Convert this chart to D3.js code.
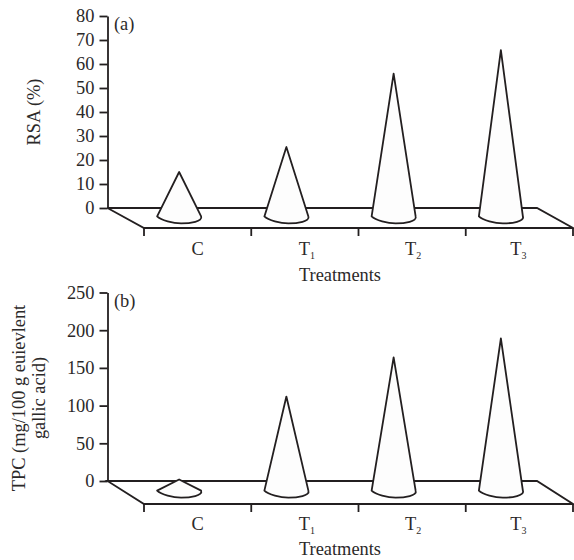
<!DOCTYPE html>
<meta charset="utf-8">
<style>
  body { margin: 0; background: #fff; }
  text { font-family: "Liberation Serif", serif; fill: #2b2929; }
</style>
<script src="https://cdn.jsdelivr.net/npm/d3@7"></script>
<div id="my_dataviz"></div>
<script>
  // values
  var categories = ["C", "T1", "T2", "T3"];
  var rsaValues = [15, 25.4, 56, 65.8];
  var tpcValues = [2, 112, 164, 189];
  var rsaTicks = [0, 10, 20, 30, 40, 50, 60, 70, 80];
  var tpcTicks = [0, 50, 100, 150, 200, 250];

  var svg = d3.select("#my_dataviz")
    .append("svg")
      .attr("width", 574)
      .attr("height", 560)
      .style("display", "block");

  var fontSize = 18.4;
  var ink = "#231f20";
  var lineW = 1.8;
  // labels are not quite centred in the original
  var labelShift = { C: 0, T1: 2, T2: 1, T3: -1 };

  // front edge of the floor, split in one band per treatment
  var x = d3.scaleBand()
      .domain(categories)
      .range([144, 573]);

  function cone(cx, apexY, baseY) {
    var p = d3.path();
    p.moveTo(cx, apexY);
    p.lineTo(cx - 22, baseY);
    p.bezierCurveTo(cx - 18, baseY + 4, cx - 6, baseY + 7, cx + 2, baseY + 7);
    p.bezierCurveTo(cx + 11, baseY + 7, cx + 24, baseY + 5, cx + 22, baseY);
    p.closePath();
    return p.toString();
  }

  function panel(opt) {
    var g = svg.append("g");
    var y = d3.scaleLinear()
        .domain(opt.domain)
        .range([opt.y0, opt.yTop]);
    var depth = opt.yFront - opt.y0;

    // floor
    g.append("path")
        .attr("d", "M107.5," + opt.y0 + "H537L573," + opt.yFront + "H144Z")
        .attr("fill", "#fff")
        .attr("stroke", ink)
        .attr("stroke-width", lineW);

    // front ticks
    g.selectAll(".front")
        .data(d3.range(categories.length + 1))
      .enter().append("line")
        .attr("class", "front")
        .attr("x1", function(i) { return 144 + i * x.bandwidth(); })
        .attr("x2", function(i) { return 144 + i * x.bandwidth(); })
        .attr("y1", opt.yFront)
        .attr("y2", opt.yFront + 8)
        .attr("stroke", ink)
        .attr("stroke-width", lineW);

    // y axis
    var yAxis = g.append("g")
        .attr("transform", "translate(107.5,0)")
        .call(d3.axisLeft(y).tickValues(opt.ticks).tickSize(8).tickSizeOuter(0).tickPadding(5));
    yAxis.selectAll("path, line").attr("stroke", ink).attr("stroke-width", lineW);
    yAxis.selectAll("text")
        .style("font-family", '"Liberation Serif", serif')
        .style("font-size", fontSize + "px")
        .attr("fill", "#2b2929");

    // cones
    g.selectAll(".cone")
        .data(opt.values)
      .enter().append("path")
        .attr("class", "cone")
        .attr("d", function(d, i) {
          var cx = x(categories[i]) + x.bandwidth() / 2 - 18.5;
          return cone(cx, y(d), opt.y0 + depth * 0.42);
        })
        .attr("fill", "#fdfdfd")
        .attr("stroke", ink)
        .attr("stroke-width", lineW)
        .attr("stroke-linejoin", "round");

    // category labels
    categories.forEach(function(c) {
      var t = g.append("text")
          .attr("x", x(c) + x.bandwidth() / 2 + labelShift[c])
          .attr("y", opt.yFront + opt.catGap)
          .attr("text-anchor", "middle")
          .style("font-size", fontSize + "px");
      t.append("tspan").text(c.charAt(0));
      if (c.length > 1) {
        t.append("tspan")
            .attr("dy", 4)
            .style("font-size", "10px")
            .text(c.slice(1));
      }
    });

    g.append("text")
        .attr("x", 340)
        .attr("y", opt.yFront + opt.nameGap)
        .attr("text-anchor", "middle")
        .style("font-size", fontSize + "px")
        .text("Treatments");

    g.append("text")
        .attr("x", 114)
        .attr("y", opt.yTop + 14)
        .style("font-size", fontSize + "px")
        .text(opt.tag);

    // y title
    opt.title.forEach(function(line) {
      g.append("text")
          .attr("transform", "translate(" + line.x + "," + opt.titleY + ") rotate(-90)")
          .attr("text-anchor", "middle")
          .style("font-size", fontSize + "px")
          .text(line.text);
    });
  }

  panel({
    values: rsaValues, domain: [0, 80], ticks: rsaTicks, tag: "(a)",
    y0: 208, yTop: 16, yFront: 228, titleY: 112, catGap: 27, nameGap: 53,
    title: [{ x: 40, text: "RSA (%)" }]
  });

  panel({
    values: tpcValues, domain: [0, 250], ticks: tpcTicks, tag: "(b)",
    y0: 481, yTop: 292.5, yFront: 504, titleY: 398, catGap: 26, nameGap: 51,
    title: [
      { x: 25, text: "TPC (mg/100 g euievlent" },
      { x: 45, text: "gallic acid)" }
    ]
  });
</script>
